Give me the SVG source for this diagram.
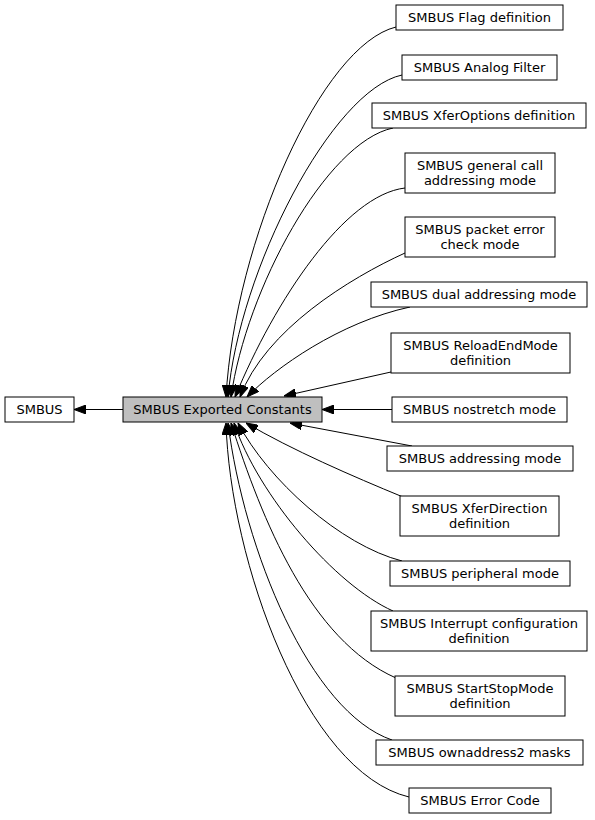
<svg xmlns="http://www.w3.org/2000/svg" width="595" height="820" viewBox="0 0 595 820">
<style>
.n rect{fill:#ffffff;stroke:#000000;stroke-width:1}
.n.c rect{fill:#bfbfbf}
.n text{font-family:"DejaVu Sans","Liberation Sans",sans-serif;font-size:13px;text-anchor:middle;fill:#000000}
.e path{fill:none;stroke:#000000;stroke-width:1;marker-end:url(#ah)}
</style>
<defs>
<marker id="ah" markerUnits="userSpaceOnUse" viewBox="0 0 12 9" refX="12" refY="4.5" markerWidth="12" markerHeight="9" orient="auto">
<path d="M0,0 L12,4.5 L0,9 z" fill="#000000" stroke="#000000" stroke-width="1"/>
</marker>
</defs>
<g id="edges" class="e">
<path d="M123,409.5 L74,409.5"/>
<path d="M396,27 C322,45 235,240 226,397"/>
<path d="M402,75 C332,90 239,270 228,397"/>
<path d="M393,128 C326,142 246,290 231,397"/>
<path d="M405,188 C345,195 275,300 235,397"/>
<path d="M405,253 C350,278 265,330 240,397"/>
<path d="M410,307 C340,322 275,368 247,397"/>
<path d="M391,372 L284,396"/>
<path d="M392,409.5 L322,409.5"/>
<path d="M412,446 L290,423"/>
<path d="M403,497 C352,476 292,450 246,423"/>
<path d="M402,561 C340,545 268,480 238,423"/>
<path d="M393,611 C335,585 258,495 234,423"/>
<path d="M396,678 C310,640 262,520 231,423"/>
<path d="M392,740 C310,712 244,550 228,423"/>
<path d="M409,797 C305,772 230,560 226,423"/>
</g>
<g id="n_smbus" class="n"><rect x="5" y="397" width="69" height="25"/><text x="39.5" y="414">SMBUS</text></g>
<g id="n_center" class="n c"><rect x="123" y="397" width="199" height="25"/><text x="222.5" y="414">SMBUS Exported Constants</text></g>
<g id="n_flag" class="n"><rect x="396" y="5" width="167" height="25"/><text x="479.5" y="22">SMBUS Flag definition</text></g>
<g id="n_analog" class="n"><rect x="402" y="55" width="155" height="25"/><text x="479.5" y="72">SMBUS Analog Filter</text></g>
<g id="n_xferopt" class="n"><rect x="372" y="103" width="214" height="25"/><text x="479" y="120">SMBUS XferOptions definition</text></g>
<g id="n_gencall" class="n"><rect x="405" y="153" width="150" height="40"/><text x="480" y="169.5">SMBUS general call</text><text x="480" y="184.5">addressing mode</text></g>
<g id="n_pec" class="n"><rect x="405" y="217" width="150" height="40"/><text x="480" y="233.5">SMBUS packet error</text><text x="480" y="248.5">check mode</text></g>
<g id="n_dual" class="n"><rect x="371" y="282" width="216" height="25"/><text x="479" y="299">SMBUS dual addressing mode</text></g>
<g id="n_reload" class="n"><rect x="391" y="333" width="179" height="40"/><text x="480.5" y="349.5">SMBUS ReloadEndMode</text><text x="480.5" y="364.5">definition</text></g>
<g id="n_nostretch" class="n"><rect x="392" y="397" width="175" height="25"/><text x="479.5" y="414">SMBUS nostretch mode</text></g>
<g id="n_addr" class="n"><rect x="387" y="446" width="186" height="25"/><text x="480" y="463">SMBUS addressing mode</text></g>
<g id="n_xferdir" class="n"><rect x="400" y="496" width="159" height="40"/><text x="479.5" y="512.5">SMBUS XferDirection</text><text x="479.5" y="527.5">definition</text></g>
<g id="n_periph" class="n"><rect x="390" y="561" width="180" height="25"/><text x="480" y="578">SMBUS peripheral mode</text></g>
<g id="n_it" class="n"><rect x="371" y="611" width="216" height="40"/><text x="479" y="627.5">SMBUS Interrupt configuration</text><text x="479" y="642.5">definition</text></g>
<g id="n_startstop" class="n"><rect x="395" y="676" width="170" height="40"/><text x="480" y="692.5">SMBUS StartStopMode</text><text x="480" y="707.5">definition</text></g>
<g id="n_oa2" class="n"><rect x="376" y="740" width="207" height="25"/><text x="479.5" y="757">SMBUS ownaddress2 masks</text></g>
<g id="n_err" class="n"><rect x="409" y="788" width="142" height="25"/><text x="480" y="805">SMBUS Error Code</text></g>
</svg>
